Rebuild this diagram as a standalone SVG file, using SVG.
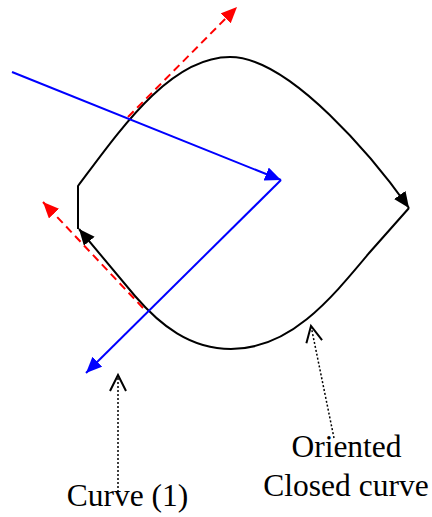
<svg xmlns="http://www.w3.org/2000/svg" width="432" height="517" viewBox="0 0 432 517">
<style>
.curve{fill:none;stroke:#000;stroke-width:2}
.blue{fill:none;stroke:#0000ff;stroke-width:2}
.red{fill:none;stroke:#ff0000;stroke-width:2;stroke-dasharray:8,5}
.dot{fill:none;stroke:#000;stroke-width:1.5;stroke-dasharray:2,2}
.lbl{font-family:"Liberation Serif","Times New Roman",serif;font-size:31.5px;fill:#000;text-anchor:middle}
</style>
<defs>
<marker id="ak" markerUnits="userSpaceOnUse" markerWidth="20" markerHeight="20" refX="16" refY="7" orient="auto"><path d="M0,0 L16,7 L0,14 Z" fill="#000"/></marker>
<marker id="ab" markerUnits="userSpaceOnUse" markerWidth="20" markerHeight="20" refX="16" refY="7" orient="auto"><path d="M0,0 L16,7 L0,14 Z" fill="#0000ff"/></marker>
<marker id="ar" markerUnits="userSpaceOnUse" markerWidth="20" markerHeight="20" refX="16" refY="7" orient="auto"><path d="M0,0 L16,7 L0,14 Z" fill="#ff0000"/></marker>
<marker id="ao" markerUnits="userSpaceOnUse" markerWidth="22" markerHeight="22" refX="17" refY="9" orient="auto"><path d="M1,1 L17,9 L1,17" fill="none" stroke="#000" stroke-width="2"/></marker>
</defs>
<g id="closed-curve">
<path class="curve" d="M78,229 L78,186 C120,130 170,57 230,57 C290,57 375,160 409,208" marker-end="url(#ak)"/>
<path class="curve" d="M409,208 L370,252 C330,300 290,349 231,349 C190,349 160,325 135,296 L79,229" marker-end="url(#ak)"/>
</g>
<g id="connectors">
<path class="red" d="M128,117 L237,7" marker-end="url(#ar)"/>
<path class="red" d="M143,308 L43,202" marker-end="url(#ar)"/>
<path class="blue" d="M12,72 L281,180" marker-end="url(#ab)"/>
<path class="blue" d="M281,180 L86,373" marker-end="url(#ab)"/>
<path class="dot" d="M118,492 L118,375" marker-end="url(#ao)"/>
<path class="dot" d="M334,438 L311,326" marker-end="url(#ao)"/>
</g>
<g id="label-curve1"><text class="lbl" x="127.5" y="506">Curve (1)</text></g>
<g id="label-oriented"><text class="lbl" x="346.5" y="457">Oriented</text><text class="lbl" x="346" y="496">Closed curve</text></g>
</svg>
